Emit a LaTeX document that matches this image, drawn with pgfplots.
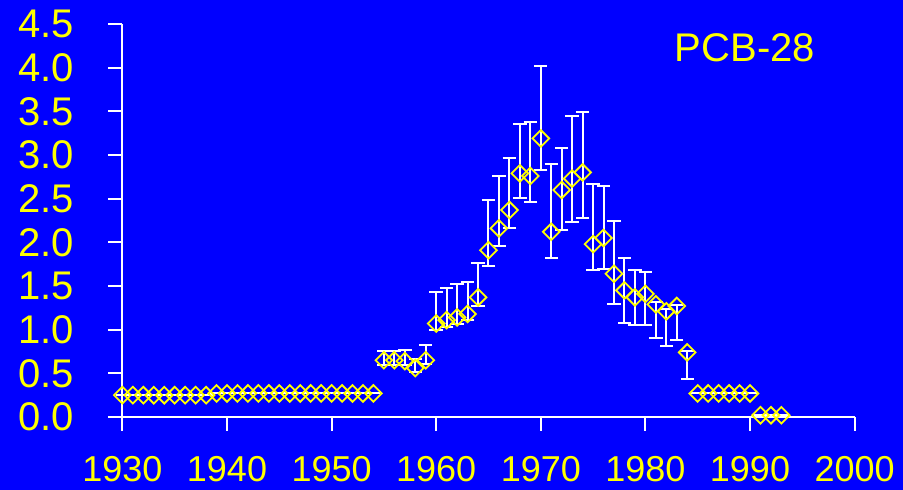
\documentclass[border=0pt]{standalone}
\usepackage{pgfplots}
\pgfplotsset{compat=1.18}
\usepackage{pgfplotstable}
\usepackage{fontspec}
\setmainfont{Liberation Sans}
\definecolor{bg}{RGB}{0,0,255}
\definecolor{yel}{RGB}{255,255,0}
\pgfplotstableread{
year val ep em
1930 0.25 0 0
1931 0.25 0 0
1932 0.25 0 0
1933 0.25 0 0
1934 0.25 0 0
1935 0.25 0 0
1936 0.25 0 0
1937 0.25 0 0
1938 0.25 0 0
1939 0.27 0 0
1940 0.27 0 0
1941 0.27 0 0
1942 0.27 0 0
1943 0.27 0 0
1944 0.27 0 0
1945 0.27 0 0
1946 0.27 0 0
1947 0.27 0 0
1948 0.27 0 0
1949 0.27 0 0
1950 0.27 0 0
1951 0.27 0 0
1952 0.27 0 0
1953 0.27 0 0
1954 0.27 0 0
1955 0.65 0.10 0.05
1956 0.65 0.10 0.05
1957 0.64 0.13 0.05
1958 0.56 0.10 0.05
1959 0.65 0.17 0.04
1960 1.07 0.36 0.07
1961 1.11 0.37 0.08
1962 1.14 0.38 0.07
1963 1.18 0.37 0.07
1964 1.37 0.39 0.10
1965 1.91 0.58 0.18
1966 2.16 0.60 0.20
1967 2.37 0.59 0.21
1968 2.79 0.57 0.28
1969 2.76 0.62 0.30
1970 3.19 0.83 0.36
1971 2.12 0.78 0.30
1972 2.60 0.48 0.46
1973 2.73 0.72 0.50
1974 2.80 0.69 0.52
1975 1.98 0.69 0.30
1976 2.05 0.60 0.35
1977 1.64 0.61 0.35
1978 1.45 0.37 0.37
1979 1.37 0.31 0.32
1980 1.41 0.25 0.36
1981 1.29 0.03 0.39
1982 1.21 0.03 0.40
1983 1.27 0.01 0.39
1984 0.74 0.02 0.30
1985 0.27 0 0
1986 0.27 0 0
1987 0.27 0 0
1988 0.27 0 0
1989 0.27 0 0
1990 0.27 0 0
1991 0.02 0 0
1992 0.02 0 0
1993 0.02 0 0
}\pcb
\begin{document}
\begin{tikzpicture}
\fill[bg] (0pt,0pt) rectangle (903pt,490pt);
\path[use as bounding box] (0pt,0pt) rectangle (903pt,490pt);
\begin{axis}[
  at={(122.4pt,73pt)}, anchor=south west,
  scale only axis, width=732.2pt, height=393pt,
  xmin=1930, xmax=2000, ymin=0, ymax=4.5,
  axis x line=bottom, axis y line=left,
  axis line style={white, line width=2pt, -},
  xtick={1930,1940,...,2000},
  ytick={0,0.5,...,4.5},
  tick align=outside,
  major tick length=14pt,
  tick style={white, line width=2pt},
  /pgf/number format/assume math mode=true,
  xticklabel style={yel, font=\fontsize{36}{36}\selectfont, /pgf/number format/1000 sep={}, anchor=north, inner sep=0pt, text depth=0pt, yshift=-25pt},
  yticklabel style={yel, font=\fontsize{40}{40}\selectfont, /pgf/number format/fixed, /pgf/number format/fixed zerofill, /pgf/number format/precision=1, anchor=east, inner sep=0pt, xshift=-34pt},
  clip=false,
]
\addplot[
  draw=none,
  mark=square, mark size=5.9pt,
  mark options={yel, fill=bg, line width=1.8pt, rotate=45},
  error bars/.cd, y dir=both, y explicit,
  error bar style={white, line width=2pt},
  error mark=-,
  error mark options={rotate=90, white, line width=2pt, mark size=6.7pt},
] table[x=year, y=val, y error plus=ep, y error minus=em] {\pcb};
\draw[white, line width=2pt] (axis cs:1928.6,0) -- (axis cs:1930,0);
\node[yel, anchor=base west, inner sep=0pt, font=\fontsize{40}{40}\selectfont] at (axis cs:1982.8,4.07) {PCB-28};
\end{axis}
\end{tikzpicture}
\end{document}
